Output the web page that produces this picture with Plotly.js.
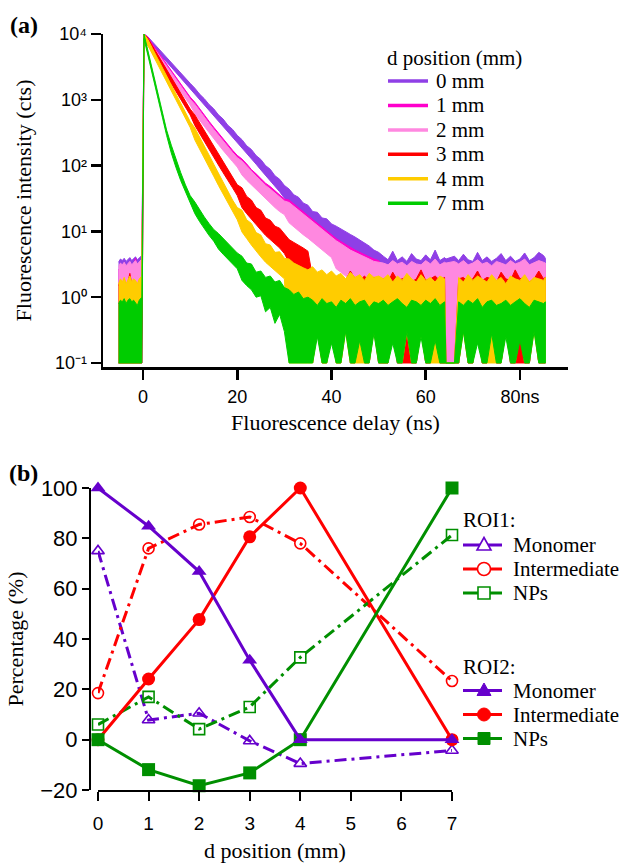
<!DOCTYPE html>
<html><head><meta charset="utf-8">
<script src="https://cdn.plot.ly/plotly-3.0.1.min.js"></script>
<style>html,body{margin:0;padding:0;background:#fff}#chart{width:622px;height:864px}</style>
</head><body><div id="chart"></div>
<script>
// ---------- Panel (a): fluorescence decays (upper / lower edge of each noisy trace, counts) ----------
const delayNs = [-5.2,-4.8,-4.4,-4.0,-3.6,-3.2,-2.8,-2.4,-2.0,-1.6,-1.2,-0.8,-0.4,-0.25,
 0.2,
 1,2,3,4,5,6,7,8,9,10,
 11,12,13,14,15,16,17,18,19,20,
 21,22,23,24,25,26,27,28,29,30,
 31,32,33,34,35,36,37,38,39,40,
 41,42,43,44,45,46,47,48,49,50,
 51,52,53,54,55,56,57,58,59,60,61,62,63,64,
 64.3,66.1,
 67,68,69,70,71,72,73,74,75,76,77,78,79,80,81,82,83,84,85,
 85.4];

const mm0Hi = [3.4,3.8,3.6,3.9,3.5,3.7,4.0,3.6,3.8,4.1,3.7,4.0,4.2,4.3,
 10000,
 9120,7590,6310,5250,4420,3670,3070,2550,2140,1780,
 1500,1220,1040,850,730,590,510,410,355,288,
 248,200,176,142,124,100,88,70,62,50,
 44,36,33,27,25,20,19.5,16,15.5,13,
 12,10.8,10,9,8.2,7.4,6.6,6.0,5.2,4.8,
 4.2,3.7,5.0,3.6,4.1,3.5,4.6,3.8,3.6,4.4,3.7,5.2,3.6,4.0,
 3.8,4.2,
 3.6,4.5,3.7,3.5,4.8,3.6,4.1,3.5,3.9,4.6,3.6,4.2,3.5,3.8,4.7,3.6,4.0,4.8,4.3,
 3.9];
const mm0Lo = [0.1,0.1,0.1,0.1,0.1,0.1,0.1,0.1,0.1,0.1,0.1,0.1,0.1,0.1,
 8500,
 7940,6610,5500,4570,3760,3130,2590,2150,1780,1480,
 1230,1020,851,700,582,484,398,331,272,226,
 186,155,127,105,86,71,59,48,40,32,
 27,22,19,16,14,12,10,8.7,7.8,6.8,
 6.0,5.2,4.8,4.4,3.9,3.5,3.3,3.0,2.8,2.6,
 0.1,0.1,0.4,0.1,0.1,0.4,0.1,0.1,0.4,0.1,0.1,0.4,0.1,0.1,
 0.1,0.1,
 0.1,0.4,0.1,0.1,0.4,0.1,0.1,0.4,0.1,0.1,0.4,0.1,0.1,0.4,0.1,0.1,0.4,0.1,0.1,
 0.1];

const mm1Hi = [2.6,2.8,2.5,2.9,2.6,2.7,2.8,2.6,2.9,3.9,2.8,3.0,3.2,3.4,
 10000,
 8990,6980,5540,4400,3500,2780,2200,1750,1390,1100,
 919,730,580,472,383,311,253,206,171,143,
 126,106,87,75,64,54,48,41,36,31,
 30,26,22.7,19.7,17.5,15.2,13.3,11.6,10,8.7,
 7.8,7.0,6.3,5.6,5.2,4.8,4.4,4.1,3.8,3.6,
 2.9,2.8,3.1,2.9,3.0,2.7,3.1,2.9,2.8,3.2,2.9,3.3,2.8,3.0,
 2.9,3.1,
 2.9,3.2,2.8,3.0,3.2,2.9,3.0,2.7,3.1,2.9,2.8,3.2,2.9,3.0,3.3,2.8,2.9,3.2,3.0,
 2.9];
const mm1Lo = [0.1,0.1,0.1,0.1,0.1,0.1,0.1,0.1,0.1,0.1,0.1,0.1,0.1,0.1,
 8500,
 7440,5780,4590,3640,2890,2300,1830,1450,1160,915,
 679,539,428,348,283,230,187,152,127,105,
 79,66,55,47,40,34,30,25,22,20,
 15,12.9,11.2,9.8,8.7,7.6,6.6,5.7,5.1,4.4,
 3.0,2.6,2.3,2.1,2.0,1.8,1.6,0.1,0.4,0.1,
 0.1,0.1,0.4,0.1,0.1,0.4,0.1,0.1,0.4,0.1,0.1,0.4,0.1,0.1,
 0.1,0.1,
 0.1,0.4,0.1,0.1,0.4,0.1,0.1,0.4,0.1,0.1,0.4,0.1,0.1,0.4,0.1,0.1,0.4,0.1,0.1,
 0.1];

const mm2Hi = [2.9,3.3,3.1,3.4,3.0,3.2,3.5,3.1,3.3,3.6,3.2,3.5,3.7,3.8,
 10000,
 8320,6460,5130,4070,3240,2570,2040,1620,1290,1020,
 851,676,537,437,355,288,234,191,158,132,
 117,98,81,69,59,50,44,38,33,29,
 27.5,24,21,18.2,16.2,14.1,12.3,10.7,9.3,8.1,
 7.2,6.5,5.8,5.2,4.8,4.4,4.1,3.8,3.5,3.4,
 3.3,3.1,3.6,3.2,3.4,3.0,3.5,3.2,3.1,3.6,3.2,3.8,3.1,3.4,
 3.3,3.5,
 3.2,3.6,3.1,3.3,3.7,3.2,3.4,3.0,3.5,3.3,3.1,3.6,3.2,3.4,3.8,3.1,3.3,3.6,3.4,
 3.3];
const mm2Lo = [0.1,0.1,0.1,0.1,0.1,0.1,0.1,0.1,0.1,0.1,0.1,0.1,0.1,0.1,
 8500,
 6760,5250,4170,3310,2630,2090,1660,1320,1050,832,
 617,490,389,316,257,209,170,138,115,95,
 72,60,50,43,36,31,27,23,20,18,
 13.5,11.7,10.2,8.9,7.9,6.9,6.0,5.2,4.6,4.0,
 2.7,2.4,2.1,1.95,1.8,1.6,1.5,0.1,0.4,0.1,
 0.1,0.1,0.4,0.1,0.1,0.4,0.1,0.1,0.4,0.1,0.1,0.4,0.1,0.1,
 0.1,0.1,
 0.1,0.4,0.1,0.1,0.4,0.1,0.1,0.4,0.1,0.1,0.4,0.1,0.1,0.4,0.1,0.1,0.4,0.1,0.1,
 0.1];

const mm3Hi = [1.5,1.8,1.6,1.9,1.5,1.7,2.3,1.6,1.8,1.7,1.5,1.8,1.9,2.0,
 10000,
 8710,6610,5010,3800,2880,2190,1660,1260,955,724,
 589,447,339,257,195,148,112,85,66,51,
 46,34,30,23,21,16,14.8,12,11.2,9.2,
 7.5,6.8,6.2,5.6,5.0,2.0,1.8,2.1,1.9,2.4,
 1.7,2.0,1.8,2.5,1.9,1.8,2.1,1.7,2.0,1.9,
 1.9,1.7,2.4,1.8,1.9,2.0,1.7,1.9,2.6,1.8,1.9,2.1,1.8,2.0,
 0.1,0.1,
 1.9,2.0,1.7,1.9,2.5,1.8,2.0,1.9,1.7,2.4,1.9,1.8,2.6,1.9,2.0,1.7,1.9,2.5,1.9,
 2.0];
const mm3Lo = [0.1,0.1,0.1,0.1,0.1,0.1,0.1,0.1,0.1,0.1,0.1,0.1,0.1,0.1,
 8500,
 7080,5370,4070,3090,2340,1780,1350,1020,776,589,
 407,309,234,178,135,102,78,59,46,35,
 23,18.6,15.1,12.6,10.5,8.7,7.4,6.5,5.6,4.6,
 3.4,3.0,2.7,2.5,2.3,0.1,0.35,0.1,0.1,0.35,
 0.1,0.1,0.35,0.1,0.1,0.35,0.1,0.1,0.35,0.1,
 0.1,0.1,0.35,0.1,0.1,0.1,0.1,0.1,0.35,0.1,0.1,0.35,0.1,0.1,
 0.1,0.1,
 0.1,0.35,0.1,0.1,0.35,0.1,0.1,0.35,0.1,0.1,0.35,0.1,0.1,0.1,0.1,0.1,0.35,0.1,0.1,
 0.1];

const mm4Hi = [1.6,1.9,1.7,2.0,1.6,1.8,2.1,1.7,1.9,1.8,1.6,1.9,2.0,2.1,
 10000,
 8320,6030,4370,3160,2290,1660,1200,871,646,468,
 372,275,200,145,105,76,55,41,30,23,
 21,15,13.2,9.6,8.8,6.5,6.2,4.8,4.9,3.9,
 3.8,3.3,3.0,2.8,2.6,2.9,2.4,2.6,2.2,2.5,
 2.1,2.3,1.9,2.4,2.0,2.2,1.8,2.3,2.0,2.1,
 1.9,2.2,1.7,2.1,1.8,2.3,1.9,1.7,2.2,1.8,2.0,1.7,2.1,1.9,
 0.1,0.1,
 2.0,1.7,2.2,1.8,2.1,1.9,1.7,2.2,1.8,2.0,1.6,2.1,1.9,1.8,2.2,1.7,2.0,1.9,1.8,
 2.0];
const mm4Lo = [0.1,0.1,0.1,0.1,0.1,0.1,0.1,0.1,0.1,0.1,0.1,0.1,0.1,0.1,
 8500,
 6760,4900,3550,2570,1860,1350,977,708,525,380,
 245,182,132,95,69,50,36,27,20,15,
 9.8,7.8,6.2,5.0,4.1,3.4,2.9,2.5,2.2,1.9,
 0.1,0.1,0.1,0.1,0.1,0.1,0.3,0.1,0.1,0.3,
 0.1,0.1,0.3,0.1,0.1,0.1,0.1,0.1,0.3,0.1,
 0.1,0.1,0.3,0.1,0.1,0.3,0.1,0.1,0.3,0.1,0.1,0.1,0.1,0.1,
 0.1,0.1,
 0.1,0.3,0.1,0.1,0.3,0.1,0.1,0.1,0.1,0.1,0.3,0.1,0.1,0.3,0.1,0.1,0.3,0.1,0.1,
 0.1];

const mm7Hi = [0.8,0.9,0.85,0.95,0.8,0.9,0.95,0.85,0.9,0.8,0.75,0.9,0.95,1.0,
 10000,
 5750,2750,1380,692,347,204,123,78,51,35,
 28,21,16.6,13.2,10.7,9.3,7.8,6.5,5.5,4.7,
 4.2,3.3,3.2,2.4,2.5,2.0,2.1,1.7,1.8,1.4,
 1.3,1.1,1.2,0.95,1.0,0.9,0.75,0.95,0.8,0.85,
 0.7,0.9,0.8,0.95,0.75,0.85,0.9,0.7,0.85,0.8,
 0.9,0.75,0.85,0.95,0.8,0.7,0.9,0.85,0.75,0.9,0.8,0.95,0.75,0.85,
 0.1,0.1,
 0.85,0.75,0.9,0.8,0.95,0.7,0.85,0.9,0.75,0.8,0.9,0.75,0.85,0.95,0.8,0.7,0.9,0.85,0.8,
 0.85];
const mm7Lo = [0.1,0.1,0.1,0.1,0.1,0.1,0.1,0.1,0.1,0.1,0.1,0.1,0.1,0.1,
 8500,
 4790,2290,1150,575,288,155,93,59,39,27,
 18.6,14.1,11,8.7,7.1,5.4,4.5,3.7,3.2,2.7,
 1.8,1.5,1.3,1.0,1.05,0.6,0.7,0.4,0.55,0.3,
 0.1,0.1,0.1,0.1,0.1,0.1,0.25,0.1,0.1,0.2,
 0.1,0.1,0.3,0.1,0.1,0.22,0.1,0.1,0.28,0.1,
 0.1,0.1,0.2,0.1,0.1,0.3,0.1,0.1,0.25,0.1,0.1,0.22,0.1,0.1,
 0.1,0.1,
 0.1,0.3,0.1,0.1,0.2,0.1,0.1,0.28,0.1,0.1,0.25,0.1,0.1,0.22,0.1,0.1,0.3,0.1,0.1,
 0.1];

const decayLabels = ['0 mm','1 mm','2 mm','3 mm','4 mm','7 mm'];
const decayColors = ['#8f3fe6','#ff00cc','#ff88e0','#ff0000','#ffcc00','#00cc00'];
const decayTickVals = [0,20,40,60,80];
const decayTickText = ['0','20','40','60','80ns'];
const intensityTickVals = [0.1,1,10,100,1000,10000];
const intensityTickText = ['10\u207B\u00B9','10\u2070','10\u00B9','10\u00B2','10\u00B3','10\u2074'];

// ---------- Panel (b): percentages vs d position ----------
const dPosition = [0,1,2,3,4,7];
const roi1Monomer      = [75,7.8,10.5,-0.5,-9.5,-4.3];
const roi1Intermediate = [18.5,76,85.5,88.5,78,23.3];
const roi1NPs          = [6,17,4.2,13,32.7,81.3];
const roi2Monomer      = [100,84.8,66.8,31.6,0,0];
const roi2Intermediate = [0,24.1,47.7,80.6,100,0];
const roi2NPs          = [0,-11.9,-18.3,-13.2,0,100];
const speciesNames  = ['Monomer','Intermediate','NPs'];
const speciesColors = ['#6600cc','#ff0000','#008f00'];
const roi1Symbols = ['triangle-up-open','circle-open','square-open'];
const roi2Symbols = ['triangle-up','circle','square'];

// ---------- build ----------
const W = 622, H = 864;
const px = x => x / W;
const py = y => 1 - y / H;

const hiSets = [mm0Hi, mm1Hi, mm2Hi, mm3Hi, mm4Hi, mm7Hi];
const loSets = [mm0Lo, mm1Lo, mm2Lo, mm3Lo, mm4Lo, mm7Lo];
const traces = [];
hiSets.forEach((hi, i) => {
  const lo = loSets[i];
  const n = Math.min(delayNs.length, hi.length, lo.length);
  const t = delayNs.slice(0, n);
  traces.push({
    type: 'scatter', mode: 'lines', name: decayLabels[i],
    x: t.concat(t.slice().reverse()),
    y: hi.slice(0, n).concat(lo.slice(0, n).reverse()),
    fill: 'toself', fillcolor: decayColors[i],
    line: {color: decayColors[i], width: 1},
    xaxis: 'x', yaxis: 'y', showlegend: false, hoverinfo: 'skip'
  });
});

const roi1 = [roi1Monomer, roi1Intermediate, roi1NPs];
const roi2 = [roi2Monomer, roi2Intermediate, roi2NPs];
roi1.forEach((vals, i) => {
  traces.push({
    type: 'scatter', mode: 'lines+markers', name: 'ROI1 ' + speciesNames[i],
    x: dPosition, y: vals, xaxis: 'x2', yaxis: 'y2', cliponaxis: false, showlegend: false,
    line: {color: speciesColors[i], width: 3, dash: '12px,5px,3px,5px'},
    marker: {symbol: roi1Symbols[i], size: 11, color: speciesColors[i], line: {color: speciesColors[i], width: 1.6}}
  });
});
[1, 2, 0].forEach(i => {
  traces.push({
    type: 'scatter', mode: 'lines+markers', name: 'ROI2 ' + speciesNames[i],
    x: dPosition, y: roi2[i], xaxis: 'x2', yaxis: 'y2', cliponaxis: false, showlegend: false,
    line: {color: speciesColors[i], width: 3},
    marker: {symbol: roi2Symbols[i], size: 13, color: speciesColors[i]}
  });
});

const serif = 'Liberation Serif';
const sans = 'Liberation Sans';
const annotations = [];
const shapes = [];
function label(text, x, y, size, anchor, bold) {
  annotations.push({text: bold ? '<b>' + text + '</b>' : text, x: px(x), y: py(y), xref: 'paper', yref: 'paper',
    xanchor: anchor || 'left', yanchor: 'middle', showarrow: false, font: {family: serif, size: size, color: '#000'}});
}
label('(a)', 24, 25, 24, 'center', true);
label('(b)', 23, 473, 24, 'center', true);

// legend (a)
label('d position (mm)', 385, 58, 21);
decayLabels.forEach((lab, i) => {
  const y = 81 + 24.45 * i;
  shapes.push({type: 'line', xref: 'paper', yref: 'paper', x0: px(388), x1: px(428), y0: py(y), y1: py(y),
    line: {color: decayColors[i], width: 3.5}});
  label(lab, 434, y, 21);
});

// legends (b)
function markerShape(sym, cx, cy, color, open) {
  const fill = open ? '#ffffff' : color;
  const ln = {color: color, width: open ? 1.6 : 1};
  if (sym.startsWith('triangle')) {
    const p = [[cx, cy - 7.5], [cx - 7, cy + 5], [cx + 7, cy + 5]];
    shapes.push({type: 'path', xref: 'paper', yref: 'paper', fillcolor: fill, line: ln,
      path: 'M' + p.map(q => px(q[0]) + ',' + py(q[1])).join(' L') + ' Z'});
  } else if (sym.startsWith('circle')) {
    shapes.push({type: 'circle', xref: 'paper', yref: 'paper', fillcolor: fill, line: ln,
      x0: px(cx - 6.5), x1: px(cx + 6.5), y0: py(cy + 6.5), y1: py(cy - 6.5)});
  } else {
    shapes.push({type: 'rect', xref: 'paper', yref: 'paper', fillcolor: fill, line: ln,
      x0: px(cx - 6), x1: px(cx + 6), y0: py(cy + 6), y1: py(cy - 6)});
  }
}
function roiLegend(title, ty, ys, symbols, open) {
  label(title, 461, ty, 21);
  speciesNames.forEach((nm, i) => {
    shapes.push({type: 'line', xref: 'paper', yref: 'paper', x0: px(463), x1: px(502), y0: py(ys[i]), y1: py(ys[i]),
      line: {color: speciesColors[i], width: 3}});
    markerShape(symbols[i], 484, ys[i], speciesColors[i], open);
    label(nm, 511, ys[i], 21);
  });
}
roiLegend('ROI1:', 520, [545, 569, 593], roi1Symbols, true);
roiLegend('ROI2:', 667, [690.5, 714.5, 738.5], roi2Symbols, false);

const axisCommon = {showline: true, linecolor: '#000', ticks: 'outside', tickcolor: '#000',
  showgrid: false, zeroline: false, automargin: false};

const layout = {
  width: W, height: H, margin: {l: 0, r: 0, t: 0, b: 0},
  paper_bgcolor: '#ffffff', plot_bgcolor: 'rgba(0,0,0,0)', showlegend: false,
  font: {family: serif, color: '#000'},
  xaxis: Object.assign({}, axisCommon, {
    domain: [px(103), px(568)], range: [-8.5, 90.2], anchor: 'y',
    linewidth: 2.5, tickwidth: 2.5, ticklen: 10, ticklabelstandoff: 2,
    tickvals: decayTickVals, ticktext: decayTickText, tickfont: {family: sans, size: 18},
    title: {text: 'Fluorescence delay (ns)', font: {family: serif, size: 22}, standoff: 9}
  }),
  yaxis: Object.assign({}, axisCommon, {
    domain: [py(367), py(34)], type: 'log', range: [-1.061, 4], anchor: 'x',
    linewidth: 2.5, tickwidth: 2.5, ticklen: 10,
    tickvals: intensityTickVals, ticktext: intensityTickText, tickfont: {family: sans, size: 18},
    title: {text: 'Fluorescence intensity (cts)', font: {family: serif, size: 22}, standoff: 17}
  }),
  xaxis2: Object.assign({}, axisCommon, {
    domain: [px(98), px(452)], range: [0, 7], anchor: 'y2',
    linewidth: 2, tickwidth: 2, ticklen: 9, dtick: 1, tick0: 0, ticklabelstandoff: 6,
    tickfont: {family: sans, size: 19},
    title: {text: 'd position (mm)', font: {family: serif, size: 22}, standoff: 10}
  }),
  yaxis2: Object.assign({}, axisCommon, {
    domain: [py(790), py(488)], range: [-20, 100], anchor: 'free', position: px(90),
    linewidth: 2, tickwidth: 2, ticklen: 7, dtick: 20, tick0: 0,
    tickfont: {family: sans, size: 22},
    title: {text: 'Percentage (%)', font: {family: serif, size: 22}, standoff: 10}
  }),
  annotations: annotations, shapes: shapes
};

Plotly.newPlot('chart', traces, layout, {staticPlot: true, displayModeBar: false});
</script></body></html>
